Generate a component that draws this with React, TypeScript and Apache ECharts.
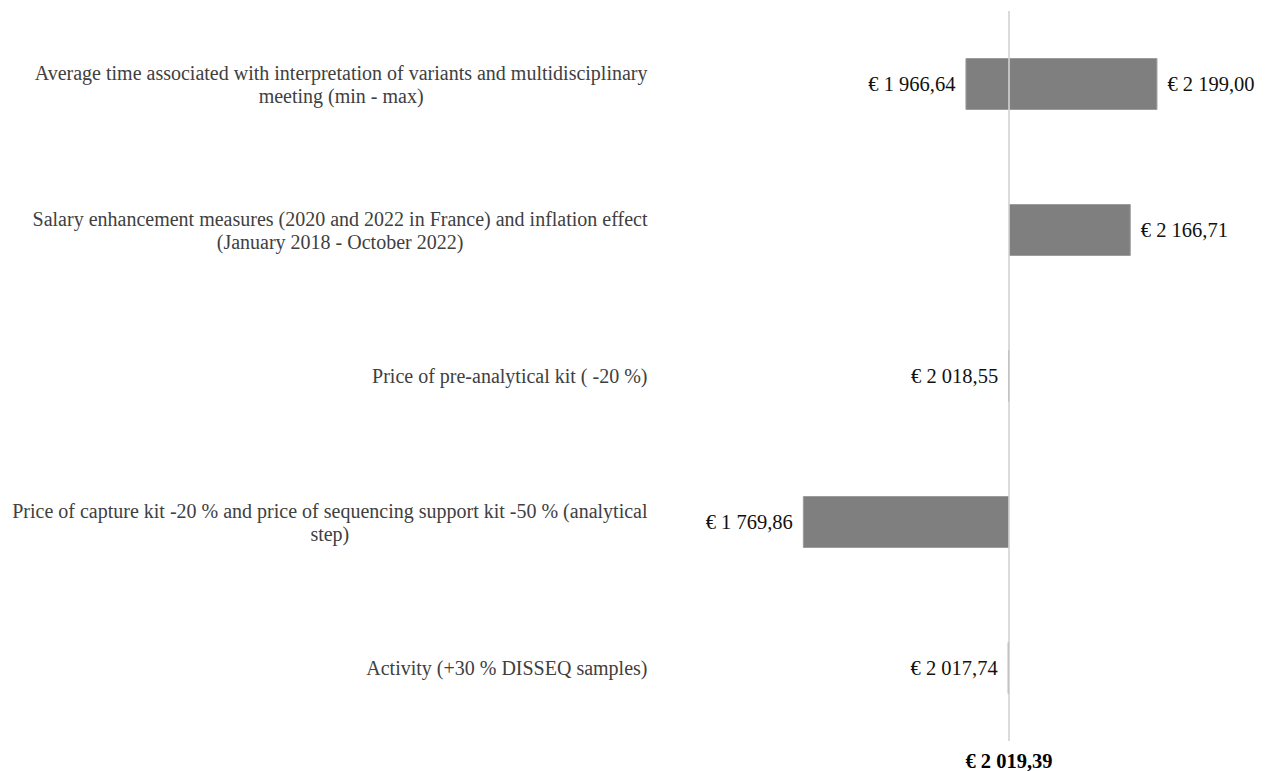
import React, { useEffect, useRef } from "react";
import * as echarts from "echarts";

const categories: string[] = [
  "Average time associated with interpretation of variants and multidisciplinary\nmeeting (min - max)",
  "Salary enhancement measures (2020 and 2022 in France) and inflation effect\n(January 2018 - October 2022)",
  "Price of pre-analytical kit ( -20 %)",
  "Price of capture kit -20 % and price of sequencing support kit -50 % (analytical\nstep)",
  "Activity (+30 % DISSEQ samples)",
];
const lowValues: (number | null)[] = [1966.64, null, 2018.55, 1769.86, 2017.74];
const highValues: (number | null)[] = [2199.0, 2166.71, null, null, null];
const baseline = 2019.39;
const axisMin = 1600;
const axisMax = 2300;

const FONT = "'Liberation Serif', 'Times New Roman', serif";

function fmt(v: number): string {
  const [i, d] = v.toFixed(2).split(".");
  const withSep = i.replace(/\B(?=(\d{3})+(?!\d))/g, " ");
  return "€ " + withSep + "," + d;
}

export default function App() {
  const ref = useRef<HTMLDivElement>(null);
  useEffect(() => {
    if (!ref.current) return;
    const chart = echarts.init(ref.current, undefined, { renderer: "svg" });
    const baseData = lowValues.map((l) => (l !== null ? l : baseline));
    const lowData = lowValues.map((l) => (l !== null ? +(baseline - l).toFixed(4) : "-"));
    const highData = highValues.map((h) => (h !== null ? +(h - baseline).toFixed(4) : "-"));
    const barStyle = { color: "#7f7f7f", borderColor: "#9c9c9c", borderWidth: 1 };
    chart.setOption({
      animation: false,
      grid: { left: 662.5, right: 24.1, top: 11, bottom: 30, containLabel: false },
      xAxis: {
        type: "value",
        min: axisMin,
        max: axisMax,
        splitLine: { show: false },
        axisLine: { show: false },
        axisTick: { show: false },
        axisLabel: {
          customValues: [baseline],
          formatter: (v: number) => fmt(v),
          fontFamily: FONT,
          fontSize: 20.5,
          fontWeight: "bold",
          color: "#000",
          margin: 9,
        },
      },
      yAxis: {
        type: "category",
        inverse: true,
        data: categories,
        axisLine: { show: false },
        axisTick: { show: false },
        axisLabel: {
          interval: 0,
          margin: 15,
          formatter: (v: string) => "{c|" + v + "}",
          rich: {
            c: {
              align: "center",
              fontFamily: FONT,
              fontSize: 20,
              lineHeight: 23,
              color: "#404040",
            },
          },
        },
      },
      series: [
        {
          type: "bar",
          stack: "t",
          data: baseData,
          barWidth: 52,
          itemStyle: { color: "transparent" },
          silent: true,
        },
        {
          type: "bar",
          stack: "t",
          data: lowData,
          barWidth: 52,
          itemStyle: barStyle,
          label: {
            show: true,
            position: "left",
            distance: 10,
            formatter: (p: any) => fmt(lowValues[p.dataIndex] as number),
            fontFamily: FONT,
            fontSize: 20.5,
            color: "#111",
          },
        },
        {
          type: "bar",
          stack: "t",
          data: highData,
          barWidth: 52,
          itemStyle: barStyle,
          label: {
            show: true,
            position: "right",
            distance: 10,
            formatter: (p: any) => fmt(highValues[p.dataIndex] as number),
            fontFamily: FONT,
            fontSize: 20.5,
            color: "#111",
          },
          markLine: {
            silent: true,
            symbol: "none",
            label: { show: false },
            lineStyle: { color: "#cfcfcf", width: 1.5, type: "solid" },
            data: [{ xAxis: baseline }],
          },
        },
      ],
    });
    return () => chart.dispose();
  }, []);
  return (
    <div
      ref={ref}
      style={{ position: "absolute", left: 0, top: 0, width: 1265, height: 771 }}
    />
  );
}
